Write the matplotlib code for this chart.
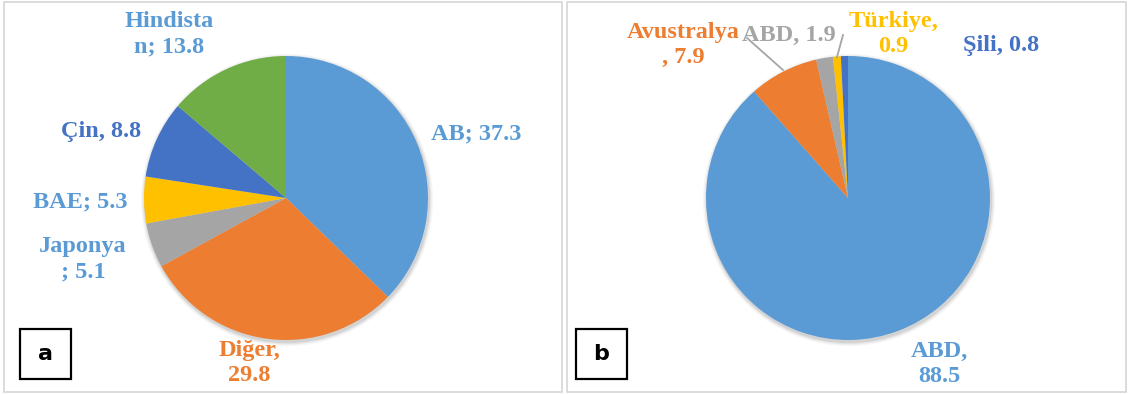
import matplotlib
matplotlib.use("Agg")
import matplotlib.pyplot as plt
from matplotlib.patches import Rectangle, Circle

# Panel a: shares by region
names_a = ["AB", "Diğer", "Japonya", "BAE", "Çin", "Hindistan"]
values_a = [37.3, 29.8, 5.1, 5.3, 8.8, 13.8]
label_fmt_a = ["AB; {}", "Diğer,\n{}", "Japonya\n; {}", "BAE; {}", "Çin, {}", "Hindista\nn; {}"]

# Panel b: shares by country
names_b = ["ABD", "Avustralya", "ABD", "Türkiye", "Şili"]
values_b = [88.5, 7.9, 1.9, 0.9, 0.8]
label_fmt_b = ["ABD,\n{}", "Avustralya\n, {}", "ABD, {}", "Türkiye,\n{}", "Şili, {}"]

BLUE, ORANGE, GRAY, GOLD, DBLUE, GREEN = "#5B9BD5", "#ED7D31", "#A5A5A5", "#FFC000", "#4472C4", "#70AD47"
colors_a = [BLUE, ORANGE, GRAY, GOLD, DBLUE, GREEN]
text_colors_a = [BLUE, ORANGE, BLUE, BLUE, DBLUE, BLUE]
colors_b = [BLUE, ORANGE, GRAY, GOLD, DBLUE]
text_colors_b = [BLUE, ORANGE, GRAY, GOLD, DBLUE]

W, H = 1129, 394
fig = plt.figure(figsize=(W / 100, H / 100), dpi=100)
ax = fig.add_axes([0, 0, 1, 1])

def py(y):
    # pixel row measured from top -> data y
    return H - y

R = 142
centers = [(286, py(198)), (848, py(198))]

# panel frames
for x0, x1 in [(4, 562), (567, 1126)]:
    ax.add_patch(Rectangle((x0, py(392)), x1 - x0, 390, fill=False,
                           edgecolor="#D6D6D6", lw=1.2, zorder=0))

# soft shadows under the pies
for c in centers:
    for k, a in [(4, 0.04), (2.5, 0.06), (1.2, 0.08)]:
        ax.add_patch(Circle((c[0] + 1, c[1] - 2), R + k, color="black",
                            alpha=a, lw=0, zorder=1))

ax.pie(values_a, colors=colors_a, startangle=90, counterclock=False,
       radius=R, center=centers[0], frame=True,
       wedgeprops=dict(linewidth=0, zorder=2))
ax.pie(values_b, colors=colors_b, startangle=90, counterclock=False,
       radius=R, center=centers[1], frame=True,
       wedgeprops=dict(linewidth=0, zorder=2))

font = dict(family="Liberation Serif", fontweight="bold", fontsize=17.5,
            ha="center", va="center", linespacing=1.3, zorder=5)

pos_a = [(476, 134), (249, 363), (83, 259), (80, 202), (101, 131), (169, 34)]
for fmt, v, c, (x, y) in zip(label_fmt_a, values_a, text_colors_a, pos_a):
    ax.text(x, py(y), fmt.format(v), color=c, **font)

pos_b = [(939, 364), (683, 45), (789, 35), (893, 34), (1001, 45)]
for fmt, v, c, (x, y) in zip(label_fmt_b, values_b, text_colors_b, pos_b):
    ax.text(x, py(y), fmt.format(v), color=c, **font)

# leader lines in panel b
ax.plot([747, 783], [py(38), py(70)], color="#A5A5A5", lw=1.3, zorder=4)
ax.plot([843, 837], [py(35), py(57)], color="#A5A5A5", lw=1.3, zorder=4)

# panel tags
for x0, tag in [(20, "a"), (576, "b")]:
    ax.add_patch(Rectangle((x0, py(379)), 51, 50, facecolor="white",
                           edgecolor="black", lw=1.6, zorder=6))
    ax.text(x0 + 25.5, py(354), tag, fontsize=16, fontweight="heavy",
            family="DejaVu Sans", ha="center", va="center", zorder=7)

ax.set_xlim(0, W)
ax.set_ylim(0, H)
ax.set_aspect("equal")
ax.axis("off")

fig.savefig("out.png", dpi=100)
